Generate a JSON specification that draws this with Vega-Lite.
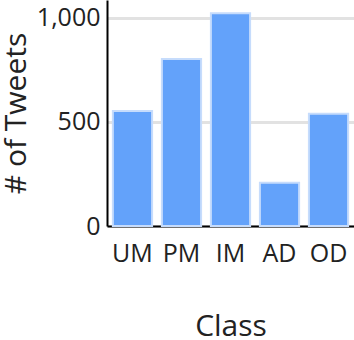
{
  "$schema": "https://vega.github.io/schema/vega-lite/v6.json",
  "autosize": {"type": "none"},
  "padding": {"left": 107, "top": 0, "right": 0, "bottom": 114},
  "width": 247,
  "height": 226,
  "data": {"values": [
    {"Class": "UM", "Tweets": 552},
    {"Class": "PM", "Tweets": 801},
    {"Class": "IM", "Tweets": 1021},
    {"Class": "AD", "Tweets": 207},
    {"Class": "OD", "Tweets": 538}
  ]},
  "config": {
    "font": "Open Sans",
    "view": {"stroke": null},
    "axis": {"labelFont": "Open Sans", "titleFont": "Open Sans", "titleFontWeight": "normal", "labelColor": "#222", "titleColor": "#222", "domainColor": "#000", "domainWidth": 2, "ticks": false}
  },
  "mark": {"type": "bar", "color": "#63a2fa", "stroke": "#c6dcfc", "strokeWidth": 2},
  "encoding": {
    "x": {"field": "Class", "type": "nominal", "sort": null,
      "scale": {"paddingInner": 0.2, "paddingOuter": 0.12},
      "axis": {"labelAngle": 0, "labelFontSize": 25, "labelPadding": 15, "titleFontSize": 30, "titlePadding": 45, "grid": false}},
    "y": {"field": "Tweets", "type": "quantitative", "title": "# of Tweets",
      "scale": {"domain": [0, 1084], "nice": false},
      "axis": {"values": [0, 500, 1000], "labelFontSize": 25, "labelPadding": 7, "titleFontSize": 30, "titlePadding": 5,
        "grid": true, "gridColor": "#e2e2e2", "gridWidth": 3, "labelFlush": false}}
  }
}
